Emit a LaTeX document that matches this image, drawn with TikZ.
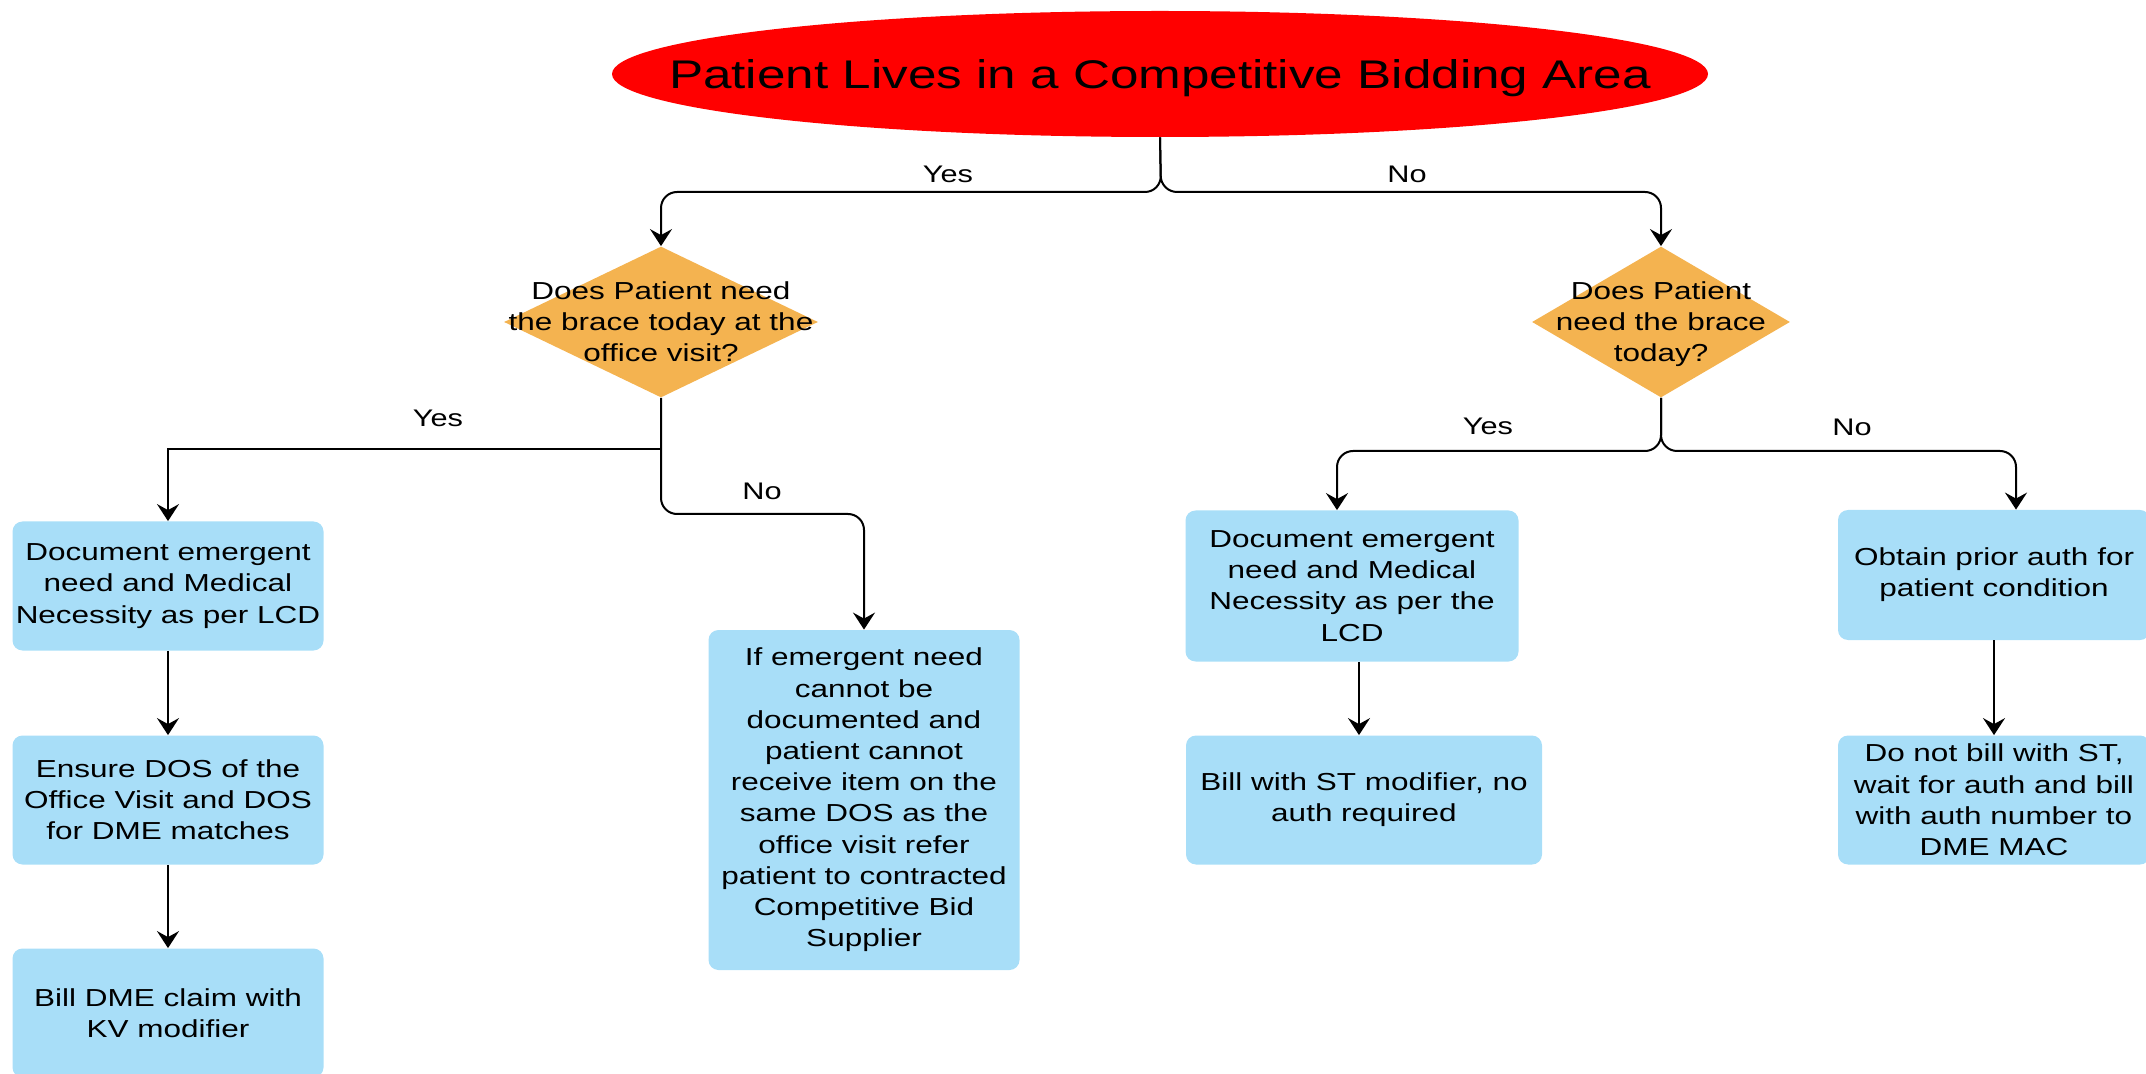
\documentclass[tikz,border=0pt]{standalone}
\usepackage{fontspec}
\setmainfont{Liberation Sans}[FakeStretch=1.28]
\usetikzlibrary{shapes.geometric,arrows.meta}
\definecolor{bidred}{RGB}{255,0,0}
\definecolor{askorange}{RGB}{244,179,80}
\definecolor{taskblue}{RGB}{168,222,248}
\tikzset{
    link/.style={line width=1pt,rounded corners=8pt,-{Stealth[length=8.5pt,width=11pt,inset=3pt]}},
    banner/.style={ellipse,fill=bidred,inner sep=0pt,minimum width=548pt,minimum height=63pt},
    decision/.style={diamond,fill=askorange,inner sep=0pt,minimum width=157pt,minimum height=75.5pt},
    qtext/.style={align=center,font=\fontsize{12.3}{15.5}\selectfont},
    task/.style={rectangle,rounded corners=5pt,fill=taskblue,align=center,inner sep=0pt,
        minimum width=155.5pt,minimum height=64.5pt,font=\fontsize{12.3}{15.6}\selectfont},
    answer/.style={font=\fontsize{12}{14}\selectfont}
}
\begin{document}
\begin{tikzpicture}[x=0.5pt,y=-0.5pt]
    \useasboundingbox (0,0) rectangle (2146,1074);
    \clip (0,0) rectangle (2146,1074);
    %% question
    \node[banner,label={[font=\fontsize{20}{24}\selectfont,yshift=-2pt]center:Patient Lives in a Competitive Bidding Area}] (title) at (1160,74) {};
    \node[decision,label={[qtext]center:Does Patient need\\the brace today at the\\office visit?}] (dq1) at (661,322) {};
    \node[decision,minimum width=129pt,label={[qtext,yshift=-1pt]center:Does Patient\\need the brace\\today?}] (dq2) at (1661,322) {};
    %% left: at the office visit
    \node[task] (b1) at (168,586) {Document emergent\\need and Medical\\Necessity as per LCD};
    \node[task] (b2) at (168,800) {Ensure DOS of the\\Office Visit and DOS\\for DME matches};
    \node[task] (b3) at (168,1013) {Bill DME claim with\\KV modifier};
    \node[task,minimum height=170pt] (b4) at (864,800) {If emergent need\\cannot be\\documented and\\patient cannot\\receive item on the\\same DOS as the\\office visit refer\\patient to contracted\\Competitive Bid\\Supplier};
    %% right: today
    \node[task,minimum width=166.5pt,minimum height=75.5pt] (b5) at (1352,586) {Document emergent\\need and Medical\\Necessity as per the\\LCD};
    \node[task,minimum width=178pt] (b6) at (1364,800) {Bill with ST modifier, no\\auth required};
    \node[task,minimum width=156pt,minimum height=65pt] (b7) at (1994,575) {Obtain prior auth for\\patient condition};
    \node[task,minimum width=156pt] (b8) at (1994,800) {Do not bill with ST,\\wait for auth and bill\\with auth number to\\DME MAC};
    %% answers
    \node[answer] (yes0) at (948,174) {Yes};
    \node[answer] (no0) at (1407,174) {No};
    \node[answer] (yes1) at (438,418) {Yes};
    \node[answer] (no1) at (762,491) {No};
    \node[answer] (yes2) at (1488,426) {Yes};
    \node[answer] (no2) at (1852,427) {No};
    %% connectors
    \coordinate (bus0) at (1161,192);
    \coordinate (bus1) at (661,449);
    \coordinate (bus2) at (661,514);
    \coordinate (bus3) at (1661,451);
    \draw[link] (title.south) -- (bus0) -| (dq1.north);
    \draw[link] (title.south) -- (bus0) -| (dq2.north);
    \draw[link,sharp corners] (dq1.south) -- (bus1) -| (b1.north);
    \draw[link] (dq1.south) -- (bus2) -| (b4.north);
    \draw[link] (dq2.south) -- (bus3) -| ([xshift=-7.5pt]b5.north);
    \draw[link] (dq2.south) -- (bus3) -| ([xshift=11pt]b7.north);
    \draw[link] ([xshift=3.5pt]b5.south) -- ([xshift=-2.5pt]b6.north);
    \foreach \a/\b in {b1/b2,b2/b3,b7/b8}
        \draw[link] (\a.south) -- (\b.north);
\end{tikzpicture}
\end{document}
